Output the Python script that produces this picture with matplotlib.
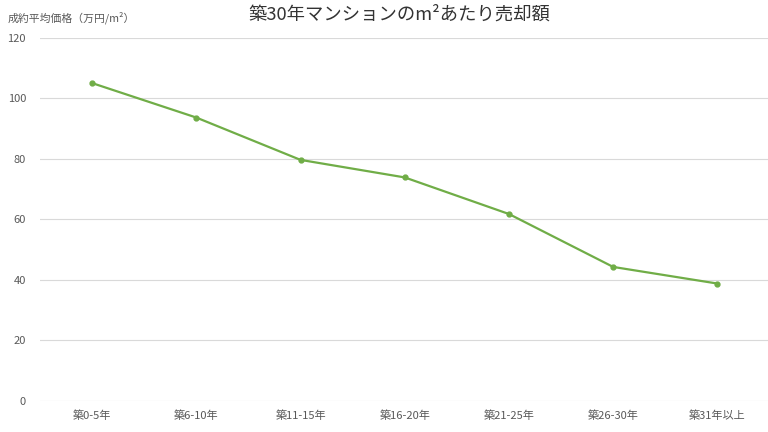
import matplotlib.pyplot as plt

plt.rcParams['font.family'] = ['Noto Sans CJK JP', 'DejaVu Sans']

# data
categories = ['築0-5年', '築6-10年', '築11-15年', '築16-20年', '築21-25年', '築26-30年', '築31年以上']
price = [105.1, 93.7, 79.7, 73.9, 61.8, 44.3, 38.8]
y_ticks = [0, 20, 40, 60, 80, 100, 120]

line_color = '#70AD47'
grid_color = '#D9D9D9'
text_color = '#595959'

fig = plt.figure(figsize=(7.68, 4.32), dpi=100)
ax = fig.add_axes([0.052, 0.072, 0.95, 0.84])

x = range(len(categories))
ax.plot(x, price, color=line_color, linewidth=1.6, marker='o', markersize=3.5)

ax.set_xlim(-0.5, len(categories) - 0.5)
ax.set_ylim(0, 120)
ax.set_yticks(y_ticks)
ax.set_xticks(list(x))
ax.set_xticklabels(categories)
ax.grid(True, axis='y', color=grid_color, linewidth=0.8)
ax.set_axisbelow(True)
for side in ['top', 'right', 'left', 'bottom']:
	ax.spines[side].set_visible(False)
ax.tick_params(axis='both', length=0, labelsize=8, colors=text_color, pad=7)
ax.tick_params(axis='y', pad=10)

fig.text(0.52, 0.965, '築30年マンションのm²あたり売却額', ha='center', va='center',
	fontsize=13.2, color='#333333')
fig.text(0.01, 0.958, '成約平均価格（万円/m²）', ha='left', va='center',
	fontsize=7.8, color=text_color)

fig.savefig('out.png', dpi=100)
